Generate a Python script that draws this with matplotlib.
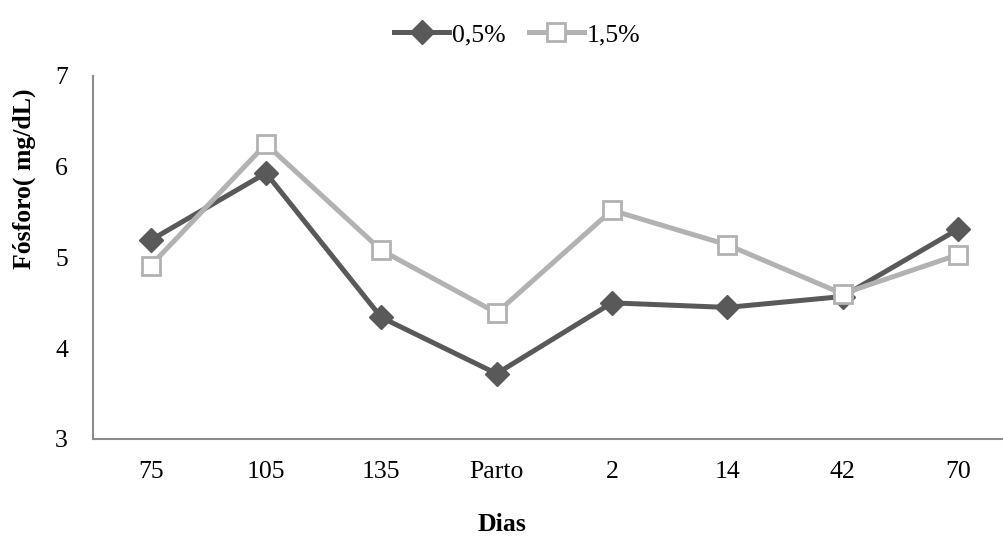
import matplotlib
matplotlib.use("Agg")
import matplotlib.pyplot as plt

# phosphorus by sampling day
dias = ["75", "105", "135", "Parto", "2", "14", "42", "70"]
fosforo_05 = [5.19, 5.93, 4.34, 3.72, 4.50, 4.45, 4.57, 5.31]
fosforo_15 = [4.91, 6.25, 5.08, 4.39, 5.52, 5.14, 4.60, 5.03]

plt.rcParams["font.family"] = ["Liberation Serif", "DejaVu Serif"]
plt.rcParams["font.size"] = 18.5

fig = plt.figure(figsize=(10.04, 5.37), dpi=100)
ax = fig.add_axes([0.0926, 0.1825, 0.9074, 0.676])

x = range(len(dias))
ax.plot(x, fosforo_05, color="#595959", lw=3.6, marker="D", ms=12,
        mfc="#595959", mec="#595959", label="0,5%", zorder=3)
ax.plot(x, fosforo_15, color="#b2b2b2", lw=3.6, marker="s", ms=13,
        mfc="white", mec="#b2b2b2", mew=2, label="1,5%", zorder=4)

ax.set_xlim(-0.5, 7.4)
ax.set_ylim(3, 7)
ax.set_yticks([3, 4, 5, 6, 7])
ax.set_xticks(list(x))
ax.set_xticklabels(dias)
ax.tick_params(length=0, labelsize=18.5)
ax.tick_params(axis="y", pad=18)
ax.tick_params(axis="x", pad=16)

for side in ["top", "right"]:
    ax.spines[side].set_visible(False)
for side in ["left", "bottom"]:
    ax.spines[side].set_color("#8c8c8c")
    ax.spines[side].set_linewidth(1.5)

ax.set_xlabel("Dias", fontweight="bold", fontsize=18.5)
ax.xaxis.set_label_coords(0.449, -0.205)
ax.set_ylabel("Fósforo( mg/dL)", fontweight="bold", fontsize=18.5)
ax.yaxis.set_label_coords(-0.063, 0.716)

fig.legend(loc="upper center", bbox_to_anchor=(0.515, 1.0), ncol=2, frameon=False,
           fontsize=18.5, handlelength=2.15, handletextpad=0.1, columnspacing=0.9)

fig.savefig("out.png", dpi=100)
